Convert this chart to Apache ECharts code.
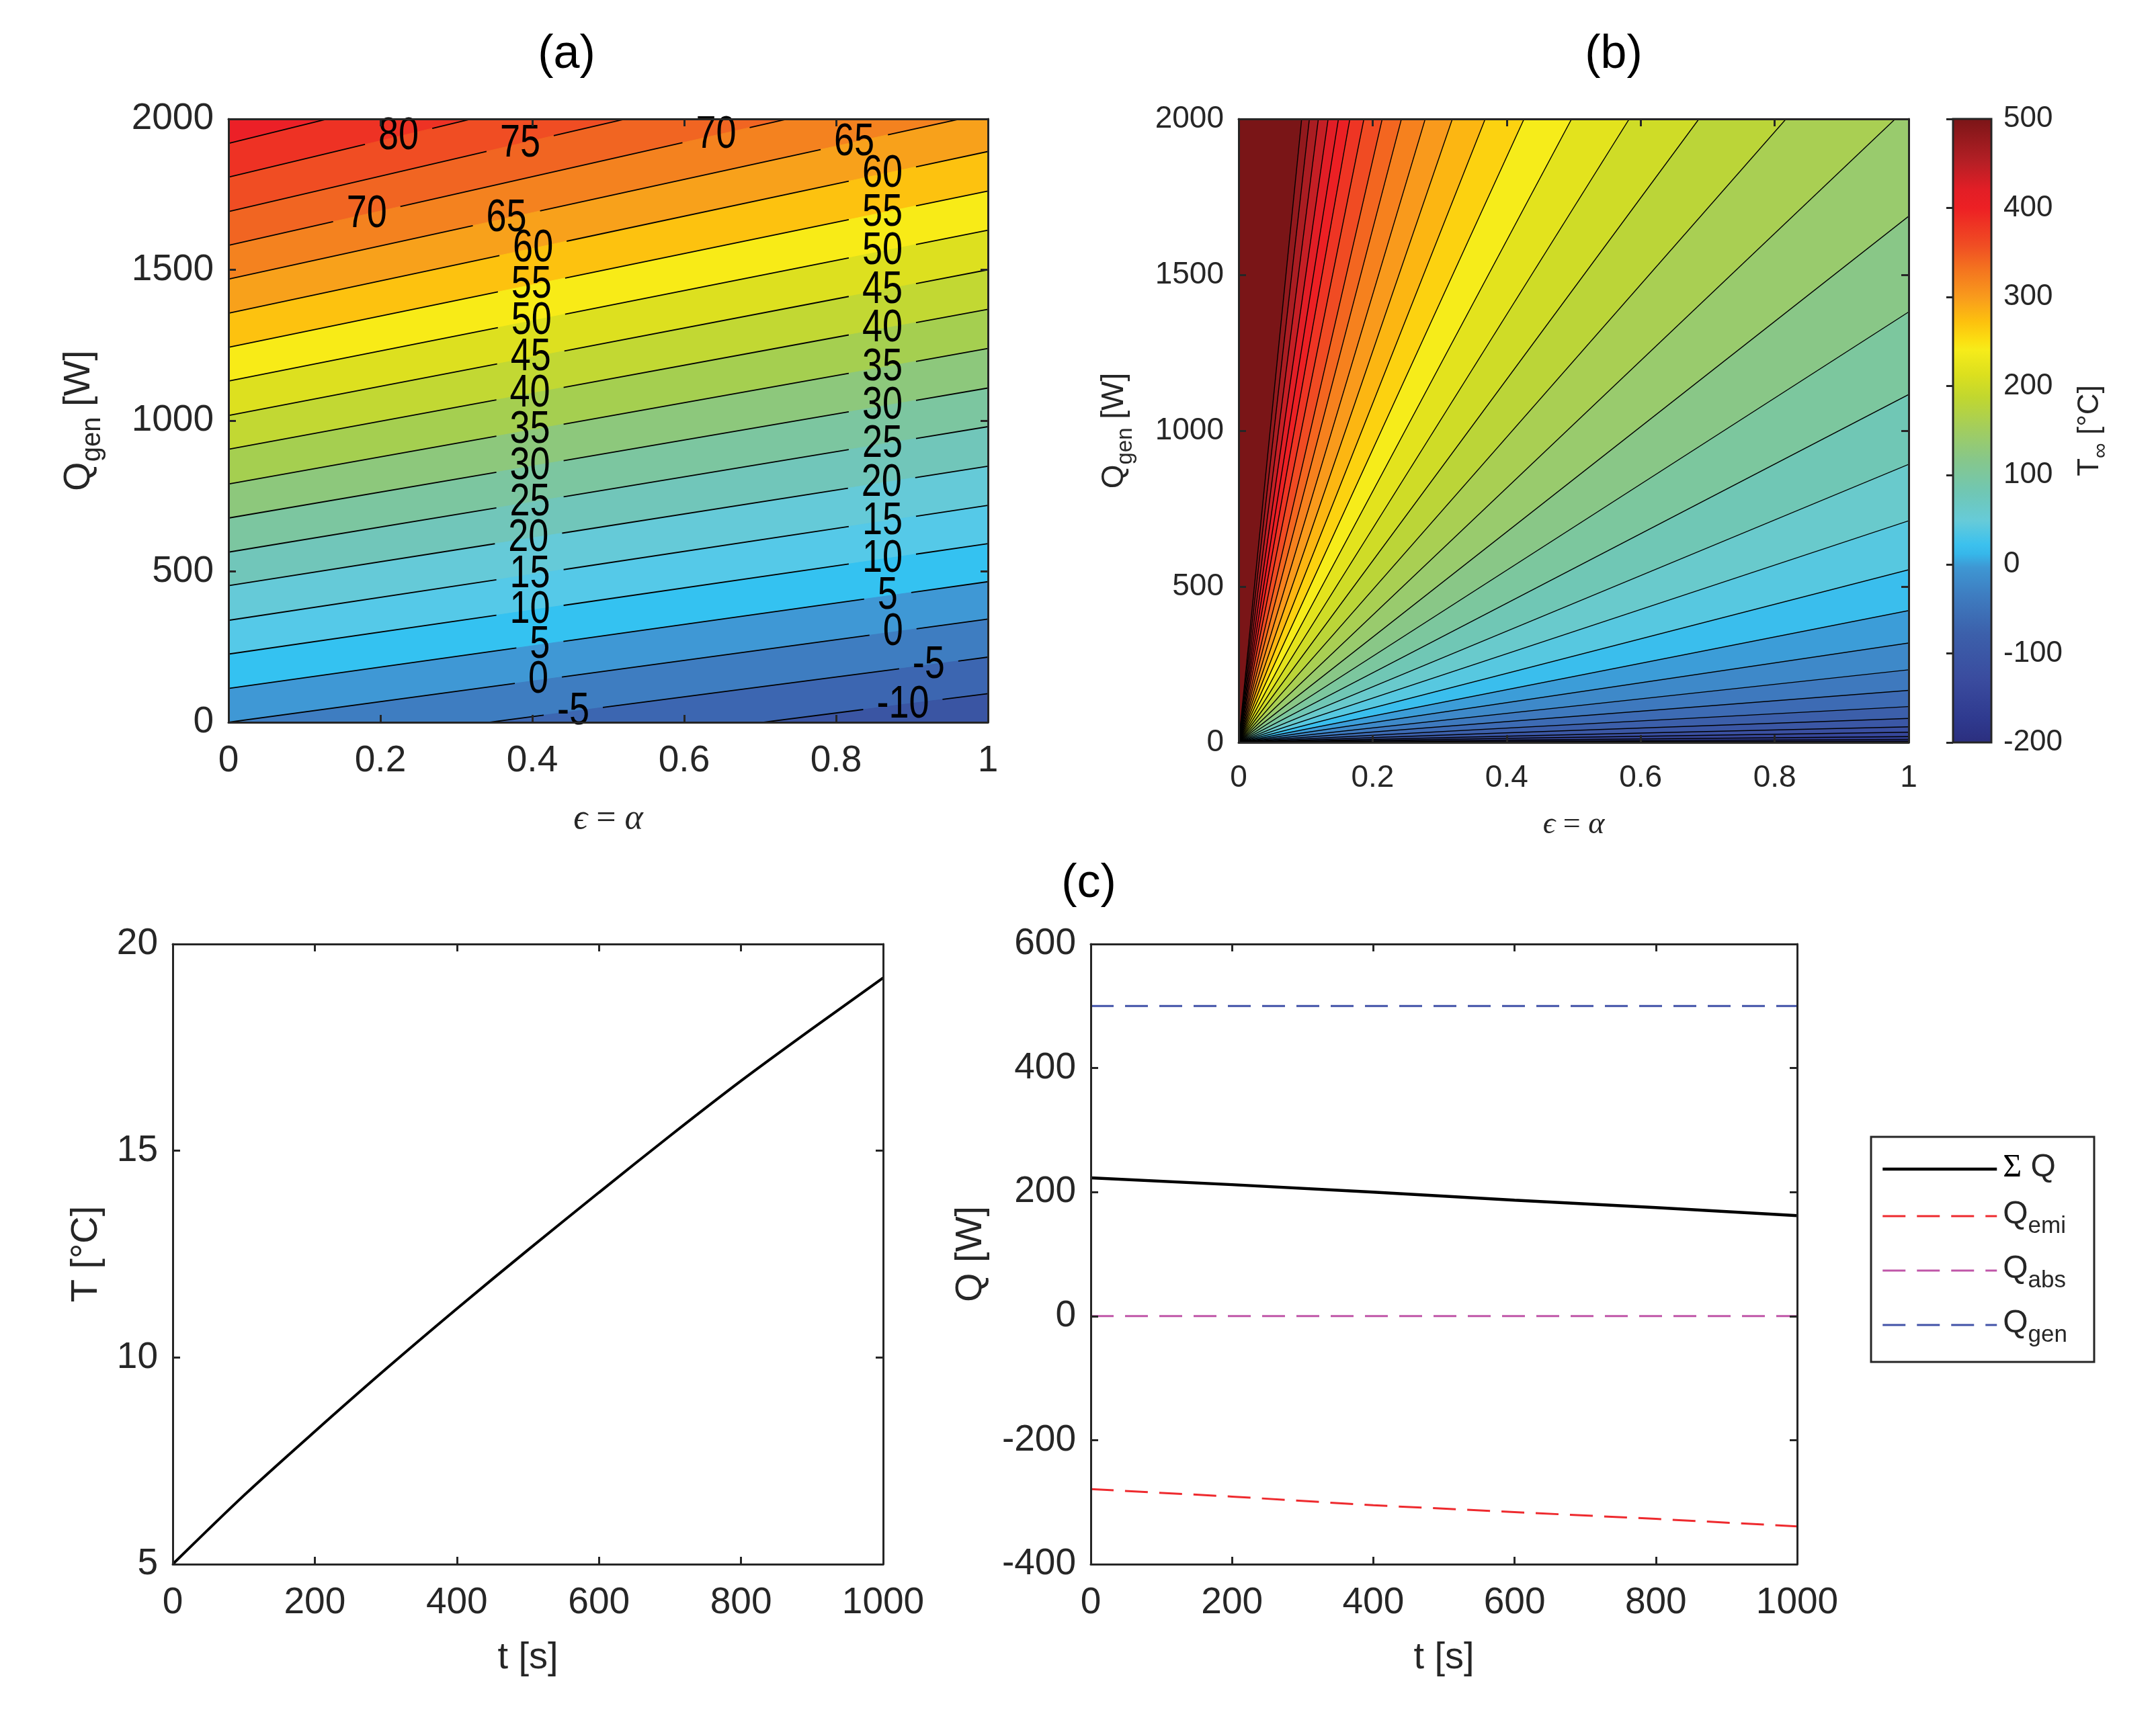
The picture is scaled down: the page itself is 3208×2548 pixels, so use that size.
<!DOCTYPE html>
<html>
<head>
<meta charset="utf-8">
<script src="https://cdn.jsdelivr.net/npm/echarts@6/dist/echarts.min.js"></script>
<style>
html, body { margin: 0; padding: 0; background: #fff; }
#main { width: 3208px; height: 2548px; }
</style>
</head>
<body>
<div id="main"></div>
<script>
// ---- (a) contour lines: level, Q where the line meets eps=0 and eps=1
var levelsA  = [-10, -5, 0, 5, 10, 15, 20, 25, 30, 35, 40, 45, 50, 55, 60, 65, 70, 75, 80, 85];
var qAtEps0A = [-226, -113, 0, 112, 226, 338, 453, 564, 677, 790, 905, 1017, 1131, 1243, 1356, 1469, 1581, 1693, 1807, 1919];
var qAtEps1A = [95, 216, 342, 466, 592, 719, 849, 980, 1108, 1239, 1369, 1500, 1631, 1761, 1892, 2020, 2150, 2280, 2410, 2540];
// colour of the band just below each level, last one is the band above 85
var bandColorsA = ['#3A55A3', '#3C66B1', '#3E7DC1', '#3F98D5', '#34C2F1', '#55C9E8', '#65CAD8', '#71C6BA',
  '#7CC6A0', '#8DC87C', '#A5CF50', '#C2D833', '#DDE01F', '#F8EB17', '#FDC20F', '#F8A11B', '#F4821F',
  '#F16522', '#F04D23', '#EE3224', '#EC2027'];
// inline contour labels: level and eps where it sits on its line
var labelLevelA = [80, 75, 70, 65,
  70, 65, 60, 55, 50, 45, 40, 35, 30, 25, 20, 15, 10, 5, 0, -5,
  60, 55, 50, 45, 40, 35, 30, 25, 20, 15, 10, 5, 0, -5, -10];
var labelEpsA = [0.224, 0.384, 0.642, 0.824,
  0.182, 0.366, 0.401, 0.399, 0.399, 0.398, 0.397, 0.397, 0.397, 0.397, 0.395, 0.397, 0.397, 0.41, 0.408, 0.454,
  0.861, 0.861, 0.861, 0.861, 0.861, 0.861, 0.861, 0.861, 0.86, 0.861, 0.861, 0.868, 0.875, 0.922, 0.888];

// ---- (b) contour lines through the origin
// lines leaving through the right edge (eps = 1): Q there
var levelsRightB = [-260, -240, -220, -200, -180, -160, -140, -120, -100, -80, -60, -40, -20, 0, 20, 40, 60, 80, 100, 120, 140];
var qRightB = [0.01, 0.1, 0.5, 1.7, 4.5, 10, 19, 33, 50, 77, 115, 167, 233, 319, 423, 554, 711, 892, 1116, 1381, 1688];
// lines leaving through the top edge (Q = 2000): eps there
var levelsTopB = [160, 180, 200, 220, 240, 260, 280, 300, 320, 340, 360, 380, 400, 420, 440, 460, 480, 500];
var epsTopB = [0.980, 0.817, 0.687, 0.583, 0.497, 0.426, 0.368, 0.319, 0.2785, 0.243, 0.2143, 0.187, 0.166, 0.149, 0.1336, 0.119, 0.1056, 0.0941];

// colour bar of (b)
var cbValues = [500, 451, 420, 399, 357, 331, 298, 272, 250, 240, 213, 187, 155, 118, 81, 49, 23, 12, -3, -35, -77, -130, -172, -200];
var cbColors = ['#7A1517', '#B51F25', '#E21E26', '#ED2024', '#F04E23', '#F4731F', '#F99D1C', '#FDC10E', '#FBE012',
  '#F6EC1A', '#DCE01E', '#C1D72F', '#A5CE5A', '#87C78A', '#70C7B4', '#66CBD9', '#3CC1EE', '#36B7EA', '#3E97D3',
  '#3E7CC0', '#3C60AB', '#3A4B9E', '#2F3A8F', '#2B2E7E'];

// ---- (c)
var tT = [0, 100, 200, 300, 400, 500, 600, 700, 800, 900, 1000];
var tempT = [5, 6.66, 8.21, 9.72, 11.18, 12.6, 13.99, 15.36, 16.69, 17.95, 19.18];
var tQ = [0, 200, 400, 600, 800, 1000];
var qSum = [223, 212, 200, 187, 175, 162];
var qEmi = [-279, -291, -305, -316, -327, -339];
var qAbs = [0, 0, 0, 0, 0, 0];
var qGen = [500, 500, 500, 500, 500, 500];

var SANS = "'Liberation Sans', Arial, Helvetica, sans-serif";
var SERIF = "'Liberation Serif', 'DejaVu Serif', 'Times New Roman', serif";
var INK = '#262626';
var LABEL_FS = 54;

function hexToRgb(h) {
  return [parseInt(h.substr(1, 2), 16), parseInt(h.substr(3, 2), 16), parseInt(h.substr(5, 2), 16)];
}
function colorAt(v) {
  v = Math.max(-200, Math.min(500, v));
  for (var k = 0; k < cbValues.length - 1; k++) {
    if (v <= cbValues[k] && v >= cbValues[k + 1]) {
      var f = (cbValues[k] - v) / (cbValues[k] - cbValues[k + 1]);
      var a = hexToRgb(cbColors[k]), b = hexToRgb(cbColors[k + 1]);
      return 'rgb(' + [0, 1, 2].map(function (j) { return Math.round(a[j] + f * (b[j] - a[j])); }).join(',') + ')';
    }
  }
  return cbColors[cbColors.length - 1];
}

// ---------- (a) render helpers
function fillA(params, api) {
  var i = levelsA.length - 1 - params.dataIndex;   // high levels first
  var pts = [api.coord([0, qAtEps0A[i]]), api.coord([1, qAtEps1A[i]]), api.coord([1, -600]), api.coord([0, -600])];
  return { type: 'polygon', shape: { points: pts }, style: { fill: bandColorsA[i], stroke: bandColorsA[i], lineWidth: 1 } };
}
function labelWidth(txt) {
  var w = 0;
  for (var k = 0; k < txt.length; k++) w += (txt[k] === '-' ? 0.333 : 0.556);
  return w * LABEL_FS;
}
function lineA(params, api) {
  var i = params.dataIndex;
  var a = api.coord([0, qAtEps0A[i]]), b = api.coord([1, qAtEps1A[i]]);
  var gaps = [];
  labelLevelA.forEach(function (lv, k) {
    if (lv !== levelsA[i]) return;
    var t = labelEpsA[k];
    var c = api.coord([t, qAtEps0A[i] + t * (qAtEps1A[i] - qAtEps0A[i])]);
    var hw = labelWidth(String(lv)) / 2 + 20;
    gaps.push([c[0] - hw, c[0] + hw]);
  });
  gaps.sort(function (p, q) { return p[0] - q[0]; });
  var children = [];
  var x0 = a[0];
  function pt(x) { return [x, a[1] + (x - a[0]) / (b[0] - a[0]) * (b[1] - a[1])]; }
  gaps.concat([[b[0], b[0]]]).forEach(function (g) {
    if (g[0] > x0) {
      var p = pt(x0), q = pt(Math.min(g[0], b[0]));
      children.push({ type: 'line', shape: { x1: p[0], y1: p[1], x2: q[0], y2: q[1] }, style: { stroke: '#000', lineWidth: 1.8 } });
    }
    x0 = Math.max(x0, g[1]);
  });
  return { type: 'group', children: children };
}
function textA(params, api) {
  var k = params.dataIndex;
  var lv = labelLevelA[k];
  var i = levelsA.indexOf(lv);
  var t = labelEpsA[k];
  var c = api.coord([t, qAtEps0A[i] + t * (qAtEps1A[i] - qAtEps0A[i])]);
  return {
    type: 'text', x: c[0], y: c[1], scaleY: 1.28,
    style: { text: String(lv), x: 0, y: 0, fill: '#000', fontSize: LABEL_FS, fontFamily: SANS, align: 'center', verticalAlign: 'middle' }
  };
}

// ---------- (b) render helpers
var levelsB = levelsRightB.concat(levelsTopB);
function endB(i) {
  return i < qRightB.length ? [1, qRightB[i]] : [epsTopB[i - qRightB.length], 2000];
}
function fillB(params, api) {
  var i = levelsB.length - 1 - params.dataIndex;
  var e = endB(i);
  var pts = [api.coord([0, 0]), api.coord(e)];
  if (e[1] >= 2000) pts.push(api.coord([1, 2000]));
  pts.push(api.coord([1, 0]));
  var col = colorAt(levelsB[i] - 20);
  return { type: 'polygon', shape: { points: pts }, style: { fill: col, stroke: col, lineWidth: 0.8 } };
}
function lineB(params, api) {
  var i = params.dataIndex;
  var p = api.coord([0, 0]), q = api.coord(endB(i));
  return { type: 'line', shape: { x1: p[0], y1: p[1], x2: q[0], y2: q[1] }, style: { stroke: '#000', lineWidth: 1.4 } };
}
function colorBar(params, api) {
  var p = api.coord([0, 500]), q = api.coord([1, -200]);
  var stops = cbValues.map(function (v, k) { return { offset: (500 - v) / 700, color: cbColors[k] }; });
  return {
    type: 'rect', shape: { x: p[0], y: p[1], width: q[0] - p[0], height: q[1] - p[1] },
    style: { fill: new echarts.graphic.LinearGradient(0, 0, 0, 1, stops), stroke: INK, lineWidth: 3 }
  };
}

// ---------- axes
function plainNum(v) { return String(v); }
function mkAxis(dim, grid, pos, min, max, step, fs, labels, extra) {
  var ax = {
    type: 'value', gridIndex: grid, position: pos, min: min, max: max, interval: step, z: 10,
    axisLine: { show: true, onZero: false, lineStyle: { color: INK, width: 3 } },
    axisTick: { show: true, inside: true, length: 11, lineStyle: { color: INK, width: 3 } },
    axisLabel: { show: labels, fontSize: fs, fontFamily: SANS, color: INK, margin: dim === 'x' ? 30 : 22, formatter: plainNum },
    splitLine: { show: false }
  };
  return Object.assign(ax, extra || {});
}
var subRich = function (fs) {
  return {
    m: { fontSize: fs, fontFamily: SANS, color: INK, lineHeight: fs + 4, verticalAlign: 'top' },
    s: { fontSize: Math.round(fs * 0.72), fontFamily: SANS, color: INK, lineHeight: Math.round(fs * 0.72) + 4, verticalAlign: 'top', padding: [Math.round(fs * 0.5), 0, 0, 0] },
    i: { fontSize: fs, fontFamily: SERIF, fontStyle: 'italic', color: INK },
    g: { fontSize: fs, fontFamily: SERIF, color: '#000', lineHeight: fs + 4, verticalAlign: 'top' }
  };
};
function nameStyle(fs, family) {
  return { fontSize: fs, fontFamily: family || SANS, color: INK, rich: subRich(fs) };
}

var xAxes = [
  mkAxis('x', 0, 'bottom', 0, 1, 0.2, 55, true, { name: '{i|ϵ} = {i|α}', nameLocation: 'middle', nameGap: 118, nameTextStyle: nameStyle(52, SERIF) }),
  mkAxis('x', 0, 'top', 0, 1, 0.2, 55, false),
  mkAxis('x', 1, 'bottom', 0, 1, 0.2, 46, true, { name: '{i|ϵ} = {i|α}', nameLocation: 'middle', nameGap: 100, nameTextStyle: nameStyle(46, SERIF) }),
  mkAxis('x', 1, 'top', 0, 1, 0.2, 46, false),
  { type: 'value', gridIndex: 2, min: 0, max: 1, show: false },
  mkAxis('x', 3, 'bottom', 0, 1000, 200, 55, true, { name: 't [s]', nameLocation: 'middle', nameGap: 112, nameTextStyle: nameStyle(56) }),
  mkAxis('x', 3, 'top', 0, 1000, 200, 55, false),
  mkAxis('x', 4, 'bottom', 0, 1000, 200, 55, true, { name: 't [s]', nameLocation: 'middle', nameGap: 112, nameTextStyle: nameStyle(56) }),
  mkAxis('x', 4, 'top', 0, 1000, 200, 55, false)
];
var yAxes = [
  mkAxis('y', 0, 'left', 0, 2000, 500, 55, true, { name: '{m|Q}{s|gen}{m| [W]}', nameLocation: 'middle', nameGap: 190, nameTextStyle: nameStyle(56) }),
  mkAxis('y', 0, 'right', 0, 2000, 500, 55, false),
  mkAxis('y', 1, 'left', 0, 2000, 500, 46, true, { name: '{m|Q}{s|gen}{m| [W]}', nameLocation: 'middle', nameGap: 158, nameTextStyle: nameStyle(46) }),
  mkAxis('y', 1, 'right', 0, 2000, 500, 46, false),
  mkAxis('y', 2, 'right', -200, 500, 100, 44, true, {
    name: '{m|T}{s|∞}{m| [°C]}', nameLocation: 'middle', nameGap: 125, nameRotate: 90, nameTextStyle: nameStyle(44),
    axisLine: { show: false }, axisTick: { show: true, inside: true, length: 10, lineStyle: { color: INK, width: 3 } },
    axisLabel: { show: true, fontSize: 44, fontFamily: SANS, color: INK, margin: 18, formatter: plainNum }
  }),
  mkAxis('y', 3, 'left', 5, 20, 5, 55, true, { name: 'T [°C]', nameLocation: 'middle', nameGap: 100, nameTextStyle: nameStyle(56) }),
  mkAxis('y', 3, 'right', 5, 20, 5, 55, false),
  mkAxis('y', 4, 'left', -400, 600, 200, 55, true, { name: 'Q [W]', nameLocation: 'middle', nameGap: 150, nameTextStyle: nameStyle(56) }),
  mkAxis('y', 4, 'right', -400, 600, 200, 55, false)
];

function zip(xs, ys) { return xs.map(function (x, k) { return [x, ys[k]]; }); }
var legendText = {
  'sumQ': '{g|Σ}{m| Q}',
  'qEmi': '{m|Q}{s|emi}',
  'qAbs': '{m|Q}{s|abs}',
  'qGen': '{m|Q}{s|gen}'
};

var option = {
  animation: false,
  backgroundColor: '#ffffff',
  grid: [
    { left: 340, top: 177, width: 1130, height: 898, show: true, backgroundColor: bandColorsA[20], borderWidth: 0 },
    { left: 1843, top: 177, width: 997, height: 928, show: true, backgroundColor: colorAt(500), borderWidth: 0 },
    { left: 2906, top: 177, width: 57, height: 928 },
    { left: 257, top: 1405, width: 1057, height: 923 },
    { left: 1623, top: 1405, width: 1051, height: 923 }
  ],
  xAxis: xAxes,
  yAxis: yAxes,
  legend: {
    orient: 'vertical', left: 2784, top: 1692,
    padding: [22, 40, 22, 15], itemGap: 22, itemWidth: 170, itemHeight: 26,
    borderColor: INK, borderWidth: 3, backgroundColor: '#fff',
    data: ['sumQ', 'qEmi', 'qAbs', 'qGen'],
    itemStyle: { opacity: 0 },
    lineStyle: { width: 'inherit', type: 'inherit' },
    formatter: function (n) { return legendText[n]; },
    textStyle: { fontSize: 48, fontFamily: SANS, color: '#000', padding: [0, 0, 0, 4], rich: subRich(48) }
  },
  graphic: [
    { type: 'text', x: 843, y: 82, style: { text: '(a)', fontSize: 70, fontFamily: SANS, fill: '#000', align: 'center', verticalAlign: 'middle' } },
    { type: 'text', x: 2401, y: 82, style: { text: '(b)', fontSize: 70, fontFamily: SANS, fill: '#000', align: 'center', verticalAlign: 'middle' } },
    { type: 'text', x: 1620, y: 1316, style: { text: '(c)', fontSize: 70, fontFamily: SANS, fill: '#000', align: 'center', verticalAlign: 'middle' } }
  ],
  series: [
    { type: 'custom', xAxisIndex: 0, yAxisIndex: 0, clip: true, silent: true, renderItem: fillA,
      data: levelsA.map(function (l) { return [0, 0]; }) },
    { type: 'custom', xAxisIndex: 0, yAxisIndex: 0, clip: true, silent: true, z: 3, renderItem: lineA,
      data: levelsA.map(function (l) { return [0, 0]; }) },
    { type: 'custom', xAxisIndex: 0, yAxisIndex: 0, clip: false, silent: true, z: 4, renderItem: textA,
      data: labelLevelA.map(function (l) { return [0, 0]; }) },
    { type: 'custom', xAxisIndex: 2, yAxisIndex: 2, clip: true, silent: true, renderItem: fillB,
      data: levelsB.map(function (l) { return [0, 0]; }) },
    { type: 'custom', xAxisIndex: 2, yAxisIndex: 2, clip: true, silent: true, z: 3, renderItem: lineB,
      data: levelsB.map(function (l) { return [0, 0]; }) },
    { type: 'custom', xAxisIndex: 4, yAxisIndex: 4, clip: false, silent: true, renderItem: colorBar, data: [[0, 0]] },
    { name: 'temp', type: 'line', xAxisIndex: 5, yAxisIndex: 5, symbol: 'none', smooth: 0.3, data: zip(tT, tempT),
      lineStyle: { color: '#000', width: 4 } },
    { name: 'sumQ', type: 'line', xAxisIndex: 7, yAxisIndex: 7, symbol: 'none', data: zip(tQ, qSum),
      itemStyle: { color: '#000' }, lineStyle: { color: '#000', width: 4.5 } },
    { name: 'qEmi', type: 'line', xAxisIndex: 7, yAxisIndex: 7, symbol: 'none', data: zip(tQ, qEmi),
      itemStyle: { color: '#EE2A2E' }, lineStyle: { color: '#EE2A2E', width: 3, type: [34, 17] } },
    { name: 'qAbs', type: 'line', xAxisIndex: 7, yAxisIndex: 7, symbol: 'none', data: zip(tQ, qAbs),
      itemStyle: { color: '#C056A8' }, lineStyle: { color: '#C056A8', width: 3, type: [34, 17] } },
    { name: 'qGen', type: 'line', xAxisIndex: 7, yAxisIndex: 7, symbol: 'none', data: zip(tQ, qGen),
      itemStyle: { color: '#4152A8' }, lineStyle: { color: '#4152A8', width: 3, type: [34, 17] } }
  ]
};

var chart = echarts.init(document.getElementById('main'));
chart.setOption(option);
</script>
</body>
</html>
